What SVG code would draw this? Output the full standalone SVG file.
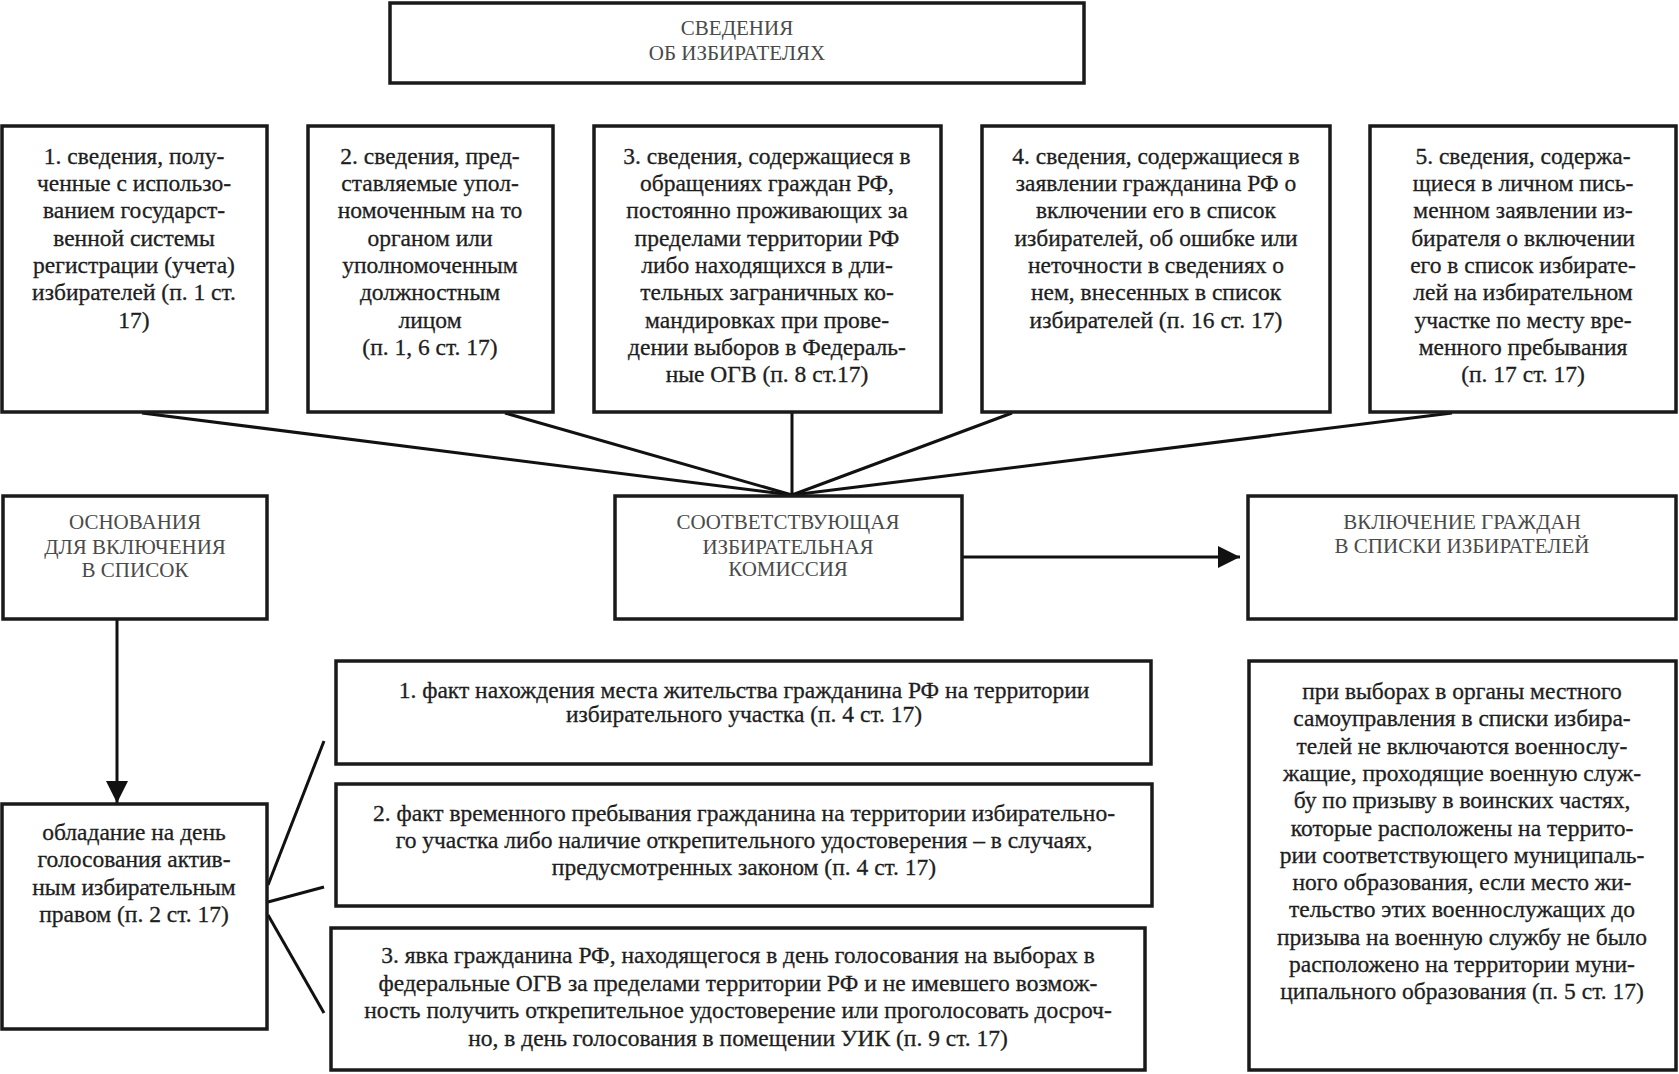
<svg xmlns="http://www.w3.org/2000/svg" width="1679" height="1074" viewBox="0 0 1679 1074">
<style>
.box{fill:#fff;stroke:#1a1a1a;stroke-width:3.5}
.t{font-family:"Liberation Serif","Times New Roman",serif;font-size:23.5px;fill:#1e1e1e;stroke:#1e1e1e;stroke-width:0.3;text-anchor:middle}
.h{font-family:"Liberation Serif","Times New Roman",serif;font-size:21px;fill:#4a4a4a;text-anchor:middle}
.c{stroke:#111;stroke-width:3;fill:none}
</style>
<defs>
<marker id="arr" markerUnits="userSpaceOnUse" markerWidth="22" markerHeight="22" refX="22" refY="11" orient="auto">
<path d="M0,0 L22,11 L0,22 z" fill="#111"/>
</marker>
</defs>
<rect width="1679" height="1074" fill="#fff"/>

<g id="connectors">
<line class="c" x1="142" y1="413" x2="792" y2="495"/>
<line class="c" x1="505" y1="413" x2="792" y2="495"/>
<line class="c" x1="792" y1="413" x2="792" y2="495"/>
<line class="c" x1="1012" y1="413" x2="792" y2="495"/>
<line class="c" x1="1452" y1="413" x2="792" y2="495"/>
<line class="c" x1="963" y1="557" x2="1240" y2="557" marker-end="url(#arr)"/>
<line class="c" x1="117" y1="620" x2="117" y2="803" marker-end="url(#arr)"/>
<line class="c" x1="268" y1="885" x2="324" y2="741"/>
<line class="c" x1="268" y1="902" x2="324" y2="887"/>
<line class="c" x1="268" y1="915" x2="324" y2="1013"/>
</g>

<g id="node-svedeniya">
<rect class="box" x="390" y="3" width="694" height="80"/>
<text class="h" x="737" y="35">СВЕДЕНИЯ</text>
<text class="h" x="737" y="60">ОБ ИЗБИРАТЕЛЯХ</text>
</g>

<g id="node-s1">
<rect class="box" x="2" y="126" width="265" height="286"/>
<text class="t" x="134" y="164">1. сведения, полу-</text>
<text class="t" x="134" y="191">ченные с использо-</text>
<text class="t" x="134" y="218">ванием государст-</text>
<text class="t" x="134" y="246">венной системы</text>
<text class="t" x="134" y="273">регистрации (учета)</text>
<text class="t" x="134" y="300">избирателей (п. 1 ст.</text>
<text class="t" x="134" y="328">17)</text>
</g>

<g id="node-s2">
<rect class="box" x="308" y="126" width="245" height="286"/>
<text class="t" x="430" y="164">2. сведения, пред-</text>
<text class="t" x="430" y="191">ставляемые упол-</text>
<text class="t" x="430" y="218">номоченным на то</text>
<text class="t" x="430" y="246">органом или</text>
<text class="t" x="430" y="273">уполномоченным</text>
<text class="t" x="430" y="300">должностным</text>
<text class="t" x="430" y="328">лицом</text>
<text class="t" x="430" y="355">(п. 1, 6 ст. 17)</text>
</g>

<g id="node-s3">
<rect class="box" x="594" y="126" width="347" height="286"/>
<text class="t" x="767" y="164">3. сведения, содержащиеся в</text>
<text class="t" x="767" y="191">обращениях граждан РФ,</text>
<text class="t" x="767" y="218">постоянно проживающих за</text>
<text class="t" x="767" y="246">пределами территории РФ</text>
<text class="t" x="767" y="273">либо находящихся в дли-</text>
<text class="t" x="767" y="300">тельных заграничных ко-</text>
<text class="t" x="767" y="328">мандировках при прове-</text>
<text class="t" x="767" y="355">дении выборов в Федераль-</text>
<text class="t" x="767" y="382">ные ОГВ (п. 8 ст.17)</text>
</g>

<g id="node-s4">
<rect class="box" x="982" y="126" width="348" height="286"/>
<text class="t" x="1156" y="164">4. сведения, содержащиеся в</text>
<text class="t" x="1156" y="191">заявлении гражданина РФ о</text>
<text class="t" x="1156" y="218">включении его в список</text>
<text class="t" x="1156" y="246">избирателей, об ошибке или</text>
<text class="t" x="1156" y="273">неточности в сведениях о</text>
<text class="t" x="1156" y="300">нем, внесенных в список</text>
<text class="t" x="1156" y="328">избирателей (п. 16 ст. 17)</text>
</g>

<g id="node-s5">
<rect class="box" x="1370" y="126" width="306" height="286"/>
<text class="t" x="1523" y="164">5. сведения, содержа-</text>
<text class="t" x="1523" y="191">щиеся в личном пись-</text>
<text class="t" x="1523" y="218">менном заявлении из-</text>
<text class="t" x="1523" y="246">бирателя о включении</text>
<text class="t" x="1523" y="273">его в список избирате-</text>
<text class="t" x="1523" y="300">лей на избирательном</text>
<text class="t" x="1523" y="328">участке по месту вре-</text>
<text class="t" x="1523" y="355">менного пребывания</text>
<text class="t" x="1523" y="382">(п. 17 ст. 17)</text>
</g>

<g id="node-osnovaniya">
<rect class="box" x="3" y="496" width="264" height="123"/>
<text class="h" x="135" y="529">ОСНОВАНИЯ</text>
<text class="h" x="135" y="554">ДЛЯ ВКЛЮЧЕНИЯ</text>
<text class="h" x="135" y="577">В СПИСОК</text>
</g>

<g id="node-komissiya">
<rect class="box" x="615" y="496" width="347" height="123"/>
<text class="h" x="788" y="529">СООТВЕТСТВУЮЩАЯ</text>
<text class="h" x="788" y="554">ИЗБИРАТЕЛЬНАЯ</text>
<text class="h" x="788" y="576">КОМИССИЯ</text>
</g>

<g id="node-vklyuchenie">
<rect class="box" x="1248" y="496" width="428" height="123"/>
<text class="h" x="1462" y="529">ВКЛЮЧЕНИЕ ГРАЖДАН</text>
<text class="h" x="1462" y="553">В СПИСКИ ИЗБИРАТЕЛЕЙ</text>
</g>

<g id="node-obladanie">
<rect class="box" x="2" y="804" width="265" height="225"/>
<text class="t" x="134" y="840">обладание на день</text>
<text class="t" x="134" y="867">голосования актив-</text>
<text class="t" x="134" y="895">ным избирательным</text>
<text class="t" x="134" y="922">правом (п. 2 ст. 17)</text>
</g>

<g id="node-fact1">
<rect class="box" x="336" y="661" width="815" height="103"/>
<text class="t" x="744" y="698">1. факт нахождения места жительства гражданина РФ на территории</text>
<text class="t" x="744" y="722">избирательного участка (п. 4 ст. 17)</text>
</g>

<g id="node-fact2">
<rect class="box" x="336" y="784" width="816" height="122"/>
<text class="t" x="744" y="821">2. факт временного пребывания гражданина на территории избирательно-</text>
<text class="t" x="744" y="848">го участка либо наличие открепительного удостоверения – в случаях,</text>
<text class="t" x="744" y="875">предусмотренных законом (п. 4 ст. 17)</text>
</g>

<g id="node-fact3">
<rect class="box" x="331" y="928" width="814" height="142"/>
<text class="t" x="738" y="963">3. явка гражданина РФ, находящегося в день голосования на выборах в</text>
<text class="t" x="738" y="991">федеральные ОГВ за пределами территории РФ и не имевшего возмож-</text>
<text class="t" x="738" y="1018">ность получить открепительное удостоверение или проголосовать досроч-</text>
<text class="t" x="738" y="1046">но, в день голосования в помещении УИК (п. 9 ст. 17)</text>
</g>

<g id="node-voennye">
<rect class="box" x="1249" y="661" width="427" height="409"/>
<text class="t" x="1462" y="699">при выборах в органы местного</text>
<text class="t" x="1462" y="726">самоуправления в списки избира-</text>
<text class="t" x="1462" y="754">телей не включаются военнослу-</text>
<text class="t" x="1462" y="781">жащие, проходящие военную служ-</text>
<text class="t" x="1462" y="808">бу по призыву в воинских частях,</text>
<text class="t" x="1462" y="836">которые расположены на террито-</text>
<text class="t" x="1462" y="863">рии соответствующего муниципаль-</text>
<text class="t" x="1462" y="890">ного образования, если место жи-</text>
<text class="t" x="1462" y="917">тельство этих военнослужащих до</text>
<text class="t" x="1462" y="945">призыва на военную службу не было</text>
<text class="t" x="1462" y="972">расположено на территории муни-</text>
<text class="t" x="1462" y="999">ципального образования (п. 5 ст. 17)</text>
</g>
</svg>
